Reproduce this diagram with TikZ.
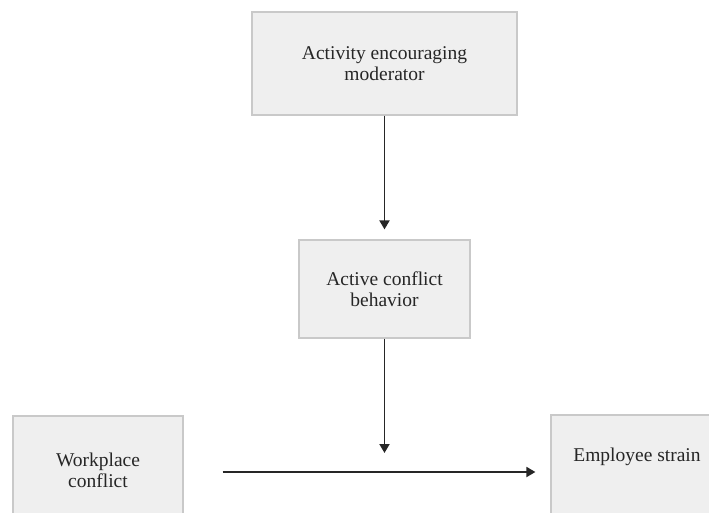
\documentclass[tikz,border=0pt]{standalone}
\usepackage{fontspec}
\setmainfont{Liberation Serif}
\usetikzlibrary{arrows.meta,calc}
\definecolor{boxfill}{HTML}{EFEFEF}
\definecolor{boxline}{HTML}{C9C9C9}
\definecolor{ink}{HTML}{262626}
\begin{document}
\begin{tikzpicture}[x=1pt,y=1pt,
  box/.style={draw=boxline, line width=1.2pt, fill=boxfill, inner sep=0pt, align=center,
    text=ink, font=\fontsize{19.5}{21}\selectfont},
  lbl/.style={text=ink, inner sep=0pt, align=center, font=\fontsize{19.5}{21}\selectfont},
  arr/.style={draw=ink, line width=1.8pt, -{Triangle[length=9pt,width=10pt]}}]
\useasboundingbox (0,0) rectangle (709,-512);
\clip (0,0) rectangle (709,-512);
\fill[white] (0,0) rectangle (709,-512);
\node[box, minimum width=265pt, minimum height=103pt] (tb) at (384.5,-63.5)
  {Activity encouraging\\moderator};
\node[box, minimum width=171pt, minimum height=98pt] (mb) at (384.5,-289)
  {Active conflict\\behavior};
\node[box, minimum width=170pt, minimum height=108pt] (wc) at (98,-470)
  {Workplace\\conflict};
\node[box, minimum width=172pt, minimum height=110pt] (es) at (637,-470) {};
\node[lbl] (est) at (637,-457) {Employee strain};
\coordinate (mid) at (384.5,-472);
\draw[arr, shorten >=10pt] (tb.south) -- (mb.north);
\draw[arr, shorten >=19pt] (mb.south) -- (mid);
\draw[arr, shorten <=39pt, shorten >=15pt] (wc.east |- mid) -- (es.west |- mid);
\end{tikzpicture}
\end{document}
